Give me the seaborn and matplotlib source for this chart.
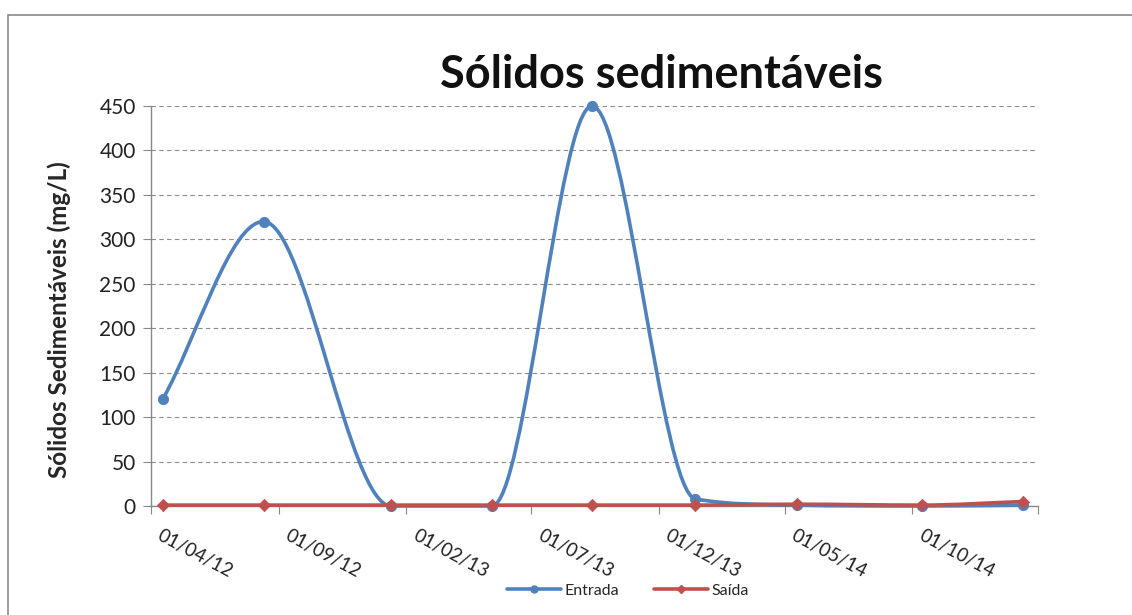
import numpy as np
import pandas as pd
import matplotlib
matplotlib.use("Agg")
import matplotlib.pyplot as plt
import matplotlib.dates as mdates
import matplotlib.transforms as mtransforms
from matplotlib.path import Path
from matplotlib.patches import PathPatch, Rectangle
from matplotlib.lines import Line2D
import seaborn as sns

# data
datas = ["2012-04-15", "2012-08-14", "2013-01-14", "2013-05-15", "2013-09-12",
         "2014-01-14", "2014-05-16", "2014-10-13", "2015-02-11"]
entrada = [120, 320, 0, 0, 450, 8, 1, 0, 1]
saida = [1, 1, 1, 1, 1, 1, 2, 1, 5]
ticks = ["2012-04-01", "2012-09-01", "2013-02-01", "2013-07-01", "2013-12-01",
         "2014-05-01", "2014-10-01", "2015-03-01"]
tick_labels = ["01/04/12", "01/09/12", "01/02/13", "01/07/13", "01/12/13",
               "01/05/14", "01/10/14", ""]

azul = "#4F81BD"
vermelho = "#C0504D"

df = pd.DataFrame({"data": pd.to_datetime(datas), "Entrada": entrada, "Saída": saida})

sns.set_style("white")
plt.rcParams["font.family"] = ["Lato", "DejaVu Sans"]


def curva_suave(x, y):
    # bezier smoothing, tangents clamped so the curve doesn't overshoot
    x = np.asarray(x, float)
    y = np.asarray(y, float)
    n = len(x)
    sec = np.diff(y) / np.diff(x)
    m = np.zeros(n)
    for i in range(n):
        a = sec[i - 1] if i > 0 else sec[0]
        b = sec[i] if i < n - 1 else sec[-1]
        if a * b <= 0:
            m[i] = 0
        else:
            xa = x[max(i - 1, 0)]
            xb = x[min(i + 1, n - 1)]
            m[i] = (y[min(i + 1, n - 1)] - y[max(i - 1, 0)]) / (xb - xa)
            m[i] = np.sign(m[i]) * min(abs(m[i]), 3 * abs(a), 3 * abs(b))
    verts = [(x[0], y[0])]
    codes = [Path.MOVETO]
    for i in range(n - 1):
        h = x[i + 1] - x[i]
        verts += [(x[i] + h / 3, y[i] + m[i] * h / 3),
                  (x[i + 1] - h / 3, y[i + 1] - m[i + 1] * h / 3),
                  (x[i + 1], y[i + 1])]
        codes += [Path.CURVE4] * 3
    return Path(verts, codes)


fig = plt.figure(figsize=(11.32, 6.15), dpi=100)
ax = fig.add_axes([151 / 1132, 1 - 506 / 615, (1038 - 151) / 1132, 400 / 615])

xnum = mdates.date2num(df["data"])
for col, cor in [("Entrada", azul), ("Saída", vermelho)]:
    patch = PathPatch(curva_suave(xnum, df[col].values), facecolor="none",
                      edgecolor=cor, lw=2.6, clip_on=False, zorder=3)
    ax.add_patch(patch)

sns.scatterplot(data=df, x="data", y="Entrada", color=azul, marker="o", s=55,
                edgecolor=azul, ax=ax, zorder=4, clip_on=False)
sns.scatterplot(data=df, x="data", y="Saída", color=vermelho, marker="D", s=40,
                edgecolor=vermelho, ax=ax, zorder=5, clip_on=False)

tick_num = mdates.date2num(pd.to_datetime(ticks))
ax.set_xlim(tick_num[0], tick_num[-1])
ax.set_ylim(0, 450)
ax.set_yticks(range(0, 451, 50))
ax.set_xticks(tick_num)
ax.set_xticklabels([])
# rotated date labels, anchored just right of each tick like in Excel
desloc = mtransforms.ScaledTranslation(12 / 100, -21 / 100, fig.dpi_scale_trans)
for t, lab in zip(tick_num, tick_labels):
    ax.text(t, 0, lab, transform=ax.get_xaxis_transform() + desloc,
            rotation=-28, rotation_mode="anchor", ha="left", va="top",
            fontsize=13.5, color="#222222")
ax.tick_params(axis="x", length=6, color="#888888", direction="out", bottom=True)
ax.tick_params(axis="y", length=6, color="#888888", labelsize=15, direction="out",
               left=True, labelcolor="#222222", pad=5)
ax.grid(axis="y", linestyle=(0, (4, 3)), color="#8c8c8c", lw=0.8)
ax.grid(axis="x", visible=False)
for s in ["top", "right"]:
    ax.spines[s].set_visible(False)
for s in ["left", "bottom"]:
    ax.spines[s].set_color("#888888")
    ax.spines[s].set_linewidth(1)
ax.set_xlabel("")
ax.set_ylabel("Sólidos Sedimentáveis (mg/L)", fontsize=17.5, fontweight="bold")
ax.yaxis.set_label_coords(-(151 - 71) / 887, 0.465)

fig.text(662 / 1132, 1 - 75 / 615, "Sólidos sedimentáveis", fontsize=32.5,
         fontweight="bold", ha="center", va="center", color="#111111")

handles = [Line2D([], [], color=azul, lw=2.6, marker="o", markersize=5),
           Line2D([], [], color=vermelho, lw=2.6, marker="D", markersize=4)]
fig.legend(handles, ["Entrada", "Saída"], loc="center", ncol=2,
           bbox_to_anchor=(628 / 1132, 1 - 591 / 615), frameon=False,
           fontsize=11.5, handlelength=3.4, columnspacing=2.2, handletextpad=0.2)

fig.patches.append(Rectangle((8 / 1132, -0.1), 1.2, 1.1 - 15 / 615,
                             transform=fig.transFigure, fill=False,
                             edgecolor="#8a8a8a", lw=1.2))

fig.savefig("out.png", dpi=100)
